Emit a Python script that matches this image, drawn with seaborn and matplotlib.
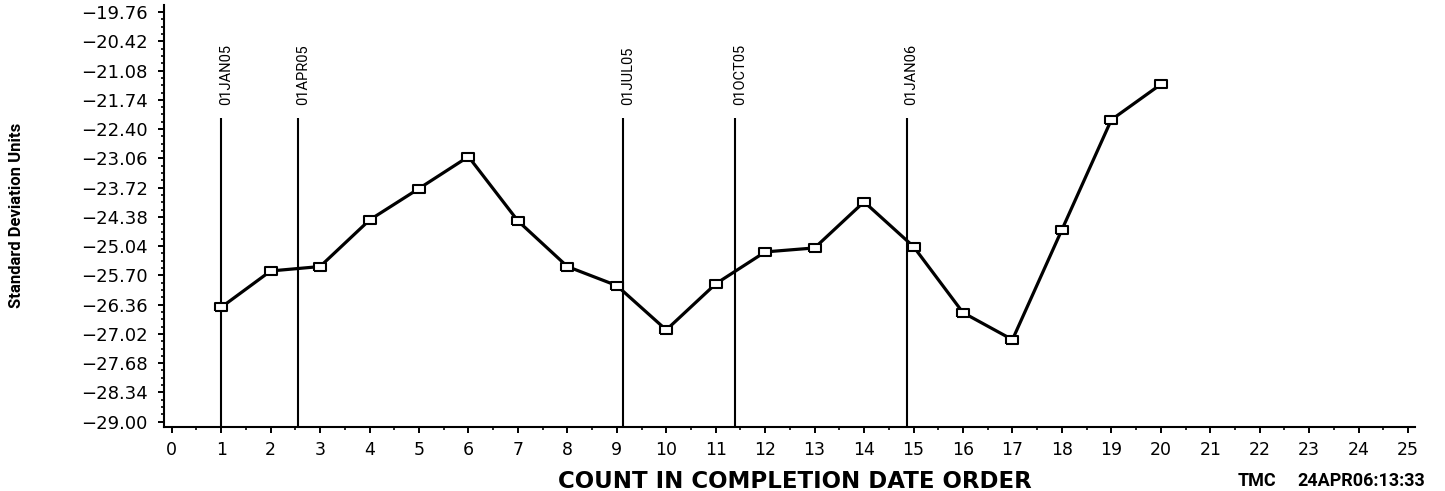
import numpy as np
import pandas as pd
import matplotlib
matplotlib.use("Agg")
import matplotlib.pyplot as plt
from matplotlib.ticker import FixedLocator, AutoMinorLocator
import seaborn as sns

# ---- data ----
counts = list(range(1, 21))
values = [-26.42, -25.60, -25.50, -24.45, -23.74, -23.02, -24.47, -25.50, -25.93, -26.93,
          -25.89, -25.17, -25.08, -24.04, -25.05, -26.54, -27.15, -24.67, -22.19, -21.39]
ref_positions = [1.0, 2.55, 9.13, 11.40, 14.86]
ref_labels = ["01JAN05", "01APR05", "01JUL05", "01OCT05", "01JAN06"]
y_ticks = [-19.76, -20.42, -21.08, -21.74, -22.40, -23.06, -23.72, -24.38,
           -25.04, -25.70, -26.36, -27.02, -27.68, -28.34, -29.00]
y_tick_labels = ["\u2212%.2f" % abs(v) for v in y_ticks]
x_ticks = list(range(0, 26))
x_label = "COUNT IN COMPLETION DATE ORDER"
y_label = "Standard Deviation Units"
stamp_left = "TMC"
stamp_right = "24APR06:13:33"

sns.set_style("ticks")
plt.rcParams["font.family"] = ["DejaVu Sans"]
narrow = ["Roboto", "DejaVu Sans"]

fig = plt.figure(figsize=(14.45, 4.91), dpi=100)
ax = fig.add_axes([164.3 / 1445, 1 - 426.7 / 491, (1415 - 164.3) / 1445, (426.7 - 5) / 491])

df = pd.DataFrame({"count": counts, "value": values})
rect = [(-1, -0.6), (1, -0.6), (1, 0.6), (-1, 0.6), (-1, -0.6)]
sns.lineplot(data=df, x="count", y="value", ax=ax, color="black", linewidth=2.3,
             marker=rect, markersize=8.5, markerfacecolor="white",
             markeredgecolor="black", markeredgewidth=1.5, zorder=5)

ax.set_xlim(-0.15, 25.14)
ax.set_ylim(-29.113, -19.60)

line_top = -22.155
ax.vlines(ref_positions, -29.113, line_top, color="black", linewidth=1.5, zorder=3)
for xp, lab in zip(ref_positions, ref_labels):
    ax.annotate(lab, xy=(xp, -21.86), xytext=(3.5, 0), textcoords="offset points",
                rotation=90, ha="center", va="bottom", fontsize=10.5,
                family=narrow, color="black")

ax.yaxis.set_major_locator(FixedLocator(y_ticks))
ax.set_yticklabels(y_tick_labels)
ax.yaxis.set_minor_locator(AutoMinorLocator(4))
ax.xaxis.set_major_locator(FixedLocator(x_ticks))
ax.set_xticklabels([str(v) for v in x_ticks])
ax.xaxis.set_minor_locator(AutoMinorLocator(2))

ax.tick_params(axis="both", which="major", length=4, width=1.4, color="black",
               labelcolor="black")
ax.tick_params(axis="y", which="major", labelsize=13, pad=8)
ax.tick_params(axis="x", which="major", labelsize=12.5, pad=6)
ax.tick_params(axis="both", which="minor", length=2.3, width=1.2, color="black")

for s in ["top", "right"]:
    ax.spines[s].set_visible(False)
for s in ["left", "bottom"]:
    ax.spines[s].set_linewidth(1.5)
    ax.spines[s].set_color("black")

ax.set_xlabel("")
ax.set_ylabel("")

fig.text(795 / 1445, 1 - 481 / 491, x_label, ha="center", va="center",
         fontsize=16.5, fontweight="bold", color="black")
fig.text(17 / 1445, 1 - 215 / 491, y_label, rotation=90, ha="center", va="center",
         fontsize=12, fontweight="bold", family=narrow, color="black")
fig.text(1238 / 1445, 1 - 481 / 491, stamp_left, ha="left", va="center",
         fontsize=13, fontweight="bold", family=narrow, color="black")
fig.text(1425 / 1445, 1 - 481 / 491, stamp_right, ha="right", va="center",
         fontsize=13, fontweight="bold", family=narrow, color="black")

fig.savefig("out.png", dpi=100, facecolor="white")
